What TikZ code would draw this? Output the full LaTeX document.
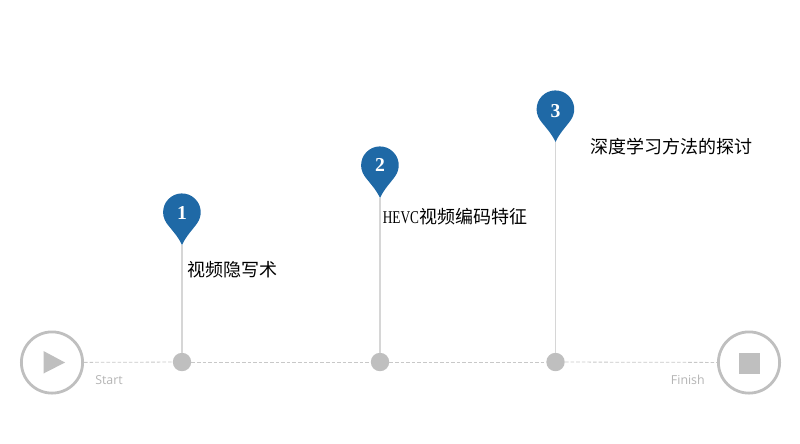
\documentclass[tikz,border=0pt]{standalone}
\usepackage{fontspec}
\setmainfont{Liberation Serif}
\setsansfont{Open Sans}
\newfontfamily\cjk{Noto Sans CJK SC}
\newfontfamily\narrowlatin[FakeStretch=0.74]{Liberation Serif}
\usetikzlibrary{positioning}
\definecolor{mypincolor}{HTML}{1F69A6}
\definecolor{mygreycolor}{HTML}{BFBFBF}
\definecolor{mystemcolor}{HTML}{D6D6D6}
\definecolor{mydashcolor}{HTML}{C8C8C8}
\definecolor{mytextcolor}{HTML}{B4B4B4}
\tikzset{
  endcircle/.style={draw=mygreycolor, line width=0.07cm, fill=white, circle, inner sep=0pt, minimum size=1.53cm},
  stopsquare/.style={fill=mygreycolor, rectangle, inner sep=0pt, minimum size=0.54cm},
  stopdot/.style={fill=mygreycolor, circle, inner sep=0pt, minimum size=0.46cm},
  pinnumber/.style={text=white, inner sep=0pt, font=\bfseries\fontsize{14pt}{14pt}\selectfont},
  steptext/.style={anchor=west, inner sep=0pt, text=black, font=\fontsize{12.8pt}{12.8pt}\selectfont},
  endtext/.style={inner sep=0pt, text=mytextcolor, font=\sffamily\fontsize{8.8pt}{8.8pt}\selectfont},
  stemline/.style={draw=mystemcolor, line width=0.04cm},
  dashline/.style={draw=mydashcolor, line width=0.02cm, dash pattern=on 0.09cm off 0.05cm},
  pinmark/.pic={\fill[mypincolor] (0,0) .. controls (-4,-9) and (-11.5,-16.3) .. (-15.5,-22)
    arc[start angle=145, end angle=395, radius=18.8] .. controls (11.5,-16.3) and (4,-9) .. (0,0) -- cycle;}
}
\begin{document}
\begin{tikzpicture}[x=0.025cm, y=-0.025cm]
\useasboundingbox (0,0) rectangle (800,443);
% start and finish
\node[endcircle] (start) at (52,362.5) {};
\fill[mygreycolor] (43.5,351) -- (65,362.5) -- (43.5,373.5) -- cycle;
\node[endtext, anchor=west] (starttext) at (95,380) {Start};
\node[endcircle] (finish) at (749,362.5) {};
\node[stopsquare] (stop) at (749.5,363.5) {};
\node[endtext, anchor=east] (finishtext) at (705,380) {Finish};
% dots on the time line
\node[stopdot] (dot1) at (182,362) {};
\node[stopdot] (dot2) at (380,362) {};
\node[stopdot] (dot3) at (555.5,362) {};
% pins
\coordinate (tip1) at (182,245);
\coordinate (tip2) at (380,198);
\coordinate (tip3) at (555.5,142);
\draw[stemline] (tip1) -- (dot1);
\draw[stemline] (tip2) -- (dot2);
\draw[stemline] (tip3) -- (dot3);
\pic at (tip1) {pinmark};
\pic at (tip2) {pinmark};
\pic at (tip3) {pinmark};
\node[pinnumber] (num1) at (182,213) {1};
\node[pinnumber] (num2) at (380,165) {2};
\node[pinnumber] (num3) at (555.5,111) {3};
% labels
\node[steptext] (label1) at (187,270) {\cjk 视频隐写术};
\node[steptext] (label2) at (382.5,217) {\narrowlatin HEVC\cjk 视频编码特征};
\node[steptext] (label3) at (590,147) {\cjk 深度学习方法的探讨};
% time line
\draw[dashline] (start) -- (dot1);
\draw[dashline] (dot1) -- (dot2);
\draw[dashline] (dot2) -- (dot3);
\draw[dashline] (dot3) -- (finish);
\end{tikzpicture}
\end{document}
